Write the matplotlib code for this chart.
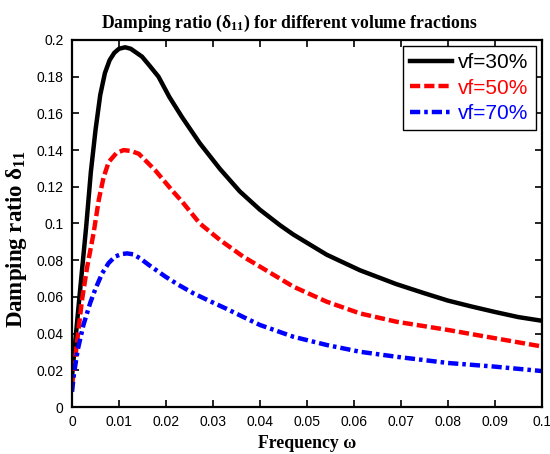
import matplotlib
matplotlib.use("Agg")
from matplotlib import pyplot as plt
from matplotlib.ticker import FormatStrFormatter, MultipleLocator

# values
x_30 = [0, 0.0015, 0.003, 0.004, 0.005, 0.006, 0.007, 0.008, 0.009, 0.010, 0.0113,
        0.0125, 0.0149, 0.0165, 0.0184, 0.0207, 0.0234, 0.0272, 0.0315, 0.0357,
        0.040, 0.0443, 0.0471, 0.0542, 0.0613, 0.069, 0.075, 0.08, 0.085, 0.09,
        0.095, 0.1]
vf_30 = [0.017, 0.058, 0.098, 0.128, 0.151, 0.170, 0.182, 0.189, 0.193, 0.1952, 0.196,
         0.1952, 0.1909, 0.186, 0.180, 0.169, 0.158, 0.1437, 0.1297, 0.1175,
         0.1075, 0.099, 0.094, 0.083, 0.0745, 0.067, 0.062, 0.058, 0.0548, 0.0518,
         0.049, 0.047]

x_50 = [0, 0.0021, 0.0032, 0.0046, 0.0057, 0.0067, 0.0078, 0.0095, 0.011, 0.0125,
        0.0142, 0.0177, 0.0213, 0.0234, 0.0272, 0.0315, 0.0364, 0.040, 0.0471,
        0.0542, 0.0613, 0.069, 0.08, 0.09, 0.1]
vf_50 = [0.012, 0.058, 0.076, 0.095, 0.113, 0.125, 0.1335, 0.1385, 0.140, 0.1395,
         0.138, 0.129, 0.118, 0.112, 0.100, 0.091, 0.082, 0.0765, 0.0656,
         0.0574, 0.051, 0.0465, 0.042, 0.0375, 0.033]

x_70 = [0, 0.0004, 0.0012, 0.0024, 0.0039, 0.005, 0.0064, 0.0078, 0.0092, 0.0105,
        0.0117, 0.013, 0.0145, 0.0163, 0.0199, 0.0227, 0.0258, 0.0295, 0.0329,
        0.0365, 0.040, 0.0471, 0.0542, 0.0613, 0.069, 0.08, 0.09, 0.1]
vf_70 = [0.0083, 0.018, 0.031, 0.0445, 0.057, 0.0645, 0.0728, 0.0785, 0.082, 0.0833,
         0.0837, 0.0832, 0.081, 0.0775, 0.071, 0.0665, 0.062, 0.0575, 0.0535,
         0.049, 0.0447, 0.0383, 0.0338, 0.0301, 0.0274, 0.024, 0.022, 0.0196]

labels = ["vf=30%", "vf=50%", "vf=70%"]

plt.rcParams["mathtext.fontset"] = "custom"
plt.rcParams["mathtext.rm"] = "Liberation Serif:bold"
plt.rcParams["mathtext.it"] = "Liberation Serif:bold"
plt.rcParams["mathtext.bf"] = "Liberation Serif:bold"

fig = plt.figure(figsize=(5.5, 4.54), dpi=100)
ax = fig.add_axes([0.131, 0.1035, 0.854, 0.8085])

ax.plot(x_30, vf_30, color="black", lw=3.2, label=labels[0])
ax.plot(x_50, vf_50, color="red", lw=3.2, dashes=(2.3, 0.9), label=labels[1])
ax.plot(x_70, vf_70, color="blue", lw=3.2, dashes=(2.3, 0.9, 0.8, 0.9), label=labels[2])

ax.set_xlim(0, 0.1)
ax.set_ylim(0, 0.2)
ax.xaxis.set_major_locator(MultipleLocator(0.01))
ax.yaxis.set_major_locator(MultipleLocator(0.02))
ax.xaxis.set_major_formatter(FormatStrFormatter("%g"))
ax.yaxis.set_major_formatter(FormatStrFormatter("%g"))
ax.tick_params(direction="in", top=True, right=True, length=5, width=1.2,
               labelsize=10, pad=6)
for lab in ax.get_xticklabels() + ax.get_yticklabels():
    lab.set_fontfamily("Liberation Sans")
for sp in ax.spines.values():
    sp.set_linewidth(1.6)

ax.set_title(r"Damping ratio ($\delta_{11}$) for different volume fractions",
             fontfamily="Liberation Serif", fontweight="bold", fontsize=12.7,
             x=0.463, pad=9)
ax.set_xlabel("Frequency ω", fontfamily="Liberation Serif", fontweight="bold",
              fontsize=12.8, labelpad=4)
ax.set_ylabel(r"Damping ratio $\delta_{11}$", fontfamily="Liberation Serif",
              fontweight="bold", fontsize=16.5)
ax.yaxis.set_label_coords(-0.0915, 0.458)

leg = ax.legend(loc="upper right", prop={"family": "Liberation Sans", "size": 15},
                fancybox=False, framealpha=1, edgecolor="black", handlelength=2.0,
                handletextpad=0.3, labelspacing=0.3, borderpad=0.35,
                borderaxespad=0.3)
leg.get_frame().set_linewidth(1.0)
for txt, c in zip(leg.get_texts(), ["black", "red", "blue"]):
    txt.set_color(c)

fig.savefig("out.png", dpi=100)
